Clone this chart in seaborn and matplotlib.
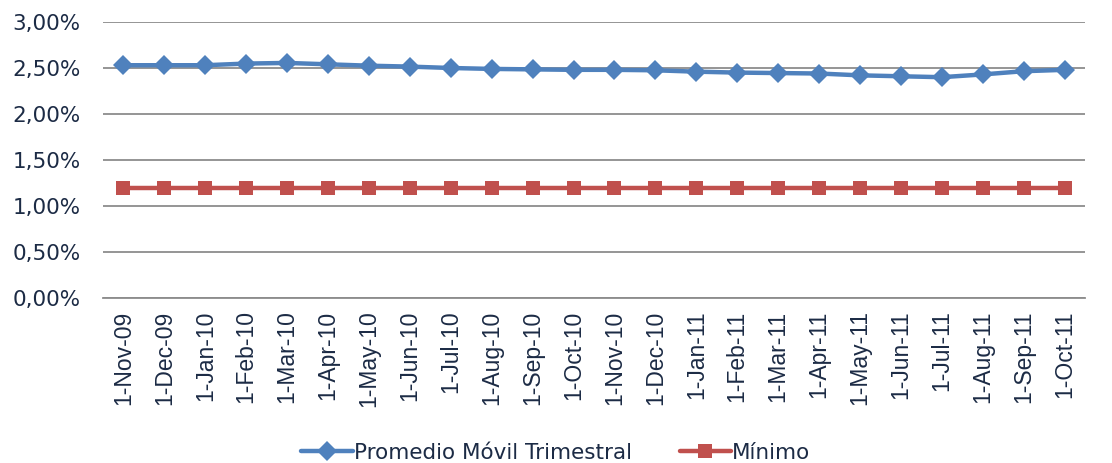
import matplotlib
matplotlib.use("Agg")
import matplotlib.pyplot as plt
import seaborn as sns
import numpy as np
import pandas as pd
from matplotlib.ticker import FuncFormatter
from matplotlib.font_manager import FontProperties

dates = ["1-Nov-09", "1-Dec-09", "1-Jan-10", "1-Feb-10", "1-Mar-10", "1-Apr-10",
         "1-May-10", "1-Jun-10", "1-Jul-10", "1-Aug-10", "1-Sep-10", "1-Oct-10",
         "1-Nov-10", "1-Dec-10", "1-Jan-11", "1-Feb-11", "1-Mar-11", "1-Apr-11",
         "1-May-11", "1-Jun-11", "1-Jul-11", "1-Aug-11", "1-Sep-11", "1-Oct-11"]
promedio = [2.53, 2.53, 2.53, 2.548, 2.555, 2.54, 2.525, 2.515, 2.50, 2.49, 2.485, 2.48,
            2.48, 2.475, 2.46, 2.45, 2.445, 2.44, 2.42, 2.41, 2.40, 2.43, 2.465, 2.48]
minimo = [1.20] * 24
series_names = ["Promedio Móvil Trimestral", "Mínimo"]

sns.set_theme(style="white")
plt.rcParams['font.family'] = ['DejaVu Sans']
text_color = "#1C2B45"
blue = "#4F81BD"
red = "#C0504D"

fig = plt.figure(figsize=(11.12, 4.63), dpi=100)
ax = fig.add_axes([0.0926, 0.3564, 0.9757 - 0.0926, 0.9525 - 0.3564])

x = np.arange(len(dates))
df = pd.DataFrame({"x": x, "promedio": promedio, "minimo": minimo})

sns.lineplot(data=df, x="x", y="promedio", ax=ax, color=blue, lw=3.2,
             marker="D", markersize=10, markeredgewidth=0, label=series_names[0],
             zorder=3)
sns.lineplot(data=df, x="x", y="minimo", ax=ax, color=red, lw=3.2,
             marker="s", markersize=10, markeredgewidth=0, label=series_names[1],
             zorder=3)

ax.set_xlim(-0.5, len(dates) - 0.5)
ax.set_ylim(0, 3.0)
ax.set_yticks([0, 0.5, 1.0, 1.5, 2.0, 2.5, 3.0])
ax.yaxis.set_major_formatter(FuncFormatter(lambda v, p: f"{v:.2f}%".replace(".", ",")))
ax.set_xticks(x)
ax.set_xticklabels(dates, rotation=90, color=text_color)
xfont = FontProperties(family="Liberation Sans", size=16.5)
for lbl in ax.get_xticklabels():
    lbl.set_fontproperties(xfont)
ax.tick_params(axis="y", labelsize=15.5, colors=text_color, length=0, pad=16)
ax.tick_params(axis="x", length=0, pad=9)
ax.set_xlabel("")
ax.set_ylabel("")

ax.grid(axis="y", color="#8C8C8C", lw=1.3)
ax.grid(axis="x", visible=False)
for s in ["left", "right", "top"]:
    ax.spines[s].set_visible(False)
ax.spines["bottom"].set_color("#8C8C8C")
ax.spines["bottom"].set_linewidth(1.3)

ax.get_legend().remove()
handles, labels = ax.get_legend_handles_labels()
fig.legend(handles, labels, loc="center", bbox_to_anchor=(0.5, 0.022), ncol=2,
           frameon=False, fontsize=15.5, labelcolor=text_color, handlelength=2.4,
           handletextpad=0.05, columnspacing=2.2)

fig.savefig("out.png", dpi=100)
